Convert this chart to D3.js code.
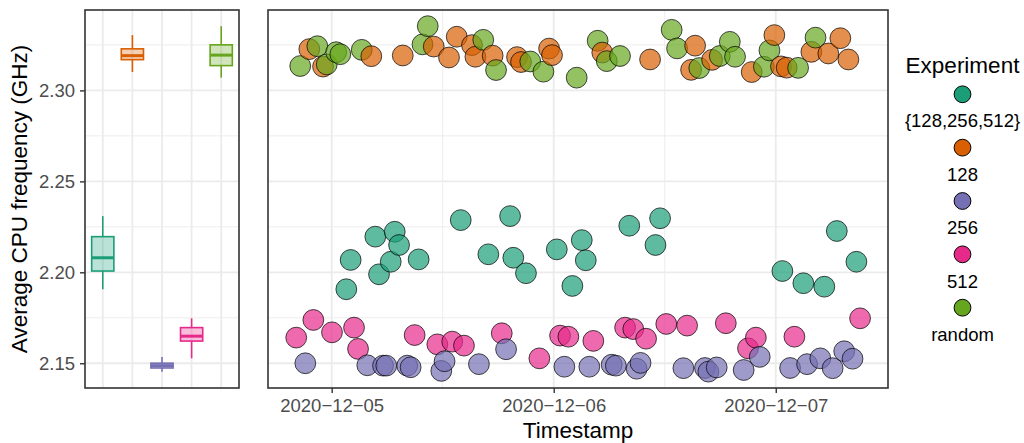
<!DOCTYPE html>
<html><head><meta charset="utf-8">
<script src="https://cdn.jsdelivr.net/npm/d3@7"></script>
<style>
html,body{margin:0;padding:0;background:#fff;}
svg{display:block;font-family:"Liberation Sans",Arial,Helvetica,sans-serif;}
</style></head>
<body><svg id="chart" width="1024" height="443"></svg>
<script>
// ---------- data ----------
const experiments = ["{128,256,512}", "128", "256", "512", "random"];
const colors = ["#1B9E77", "#D95F02", "#7570B3", "#E7298A", "#66A61E"];

const timesMulti = ["2020-12-05 01:35","2020-12-05 02:03","2020-12-05 04:43","2020-12-05 05:07","2020-12-05 06:23","2020-12-05 06:49","2020-12-05 07:17","2020-12-05 09:24","2020-12-05 13:57","2020-12-05 16:56","2020-12-05 19:17","2020-12-05 19:38","2020-12-05 21:00","2020-12-06 00:20","2020-12-06 02:01","2020-12-06 03:02","2020-12-06 03:28","2020-12-06 08:10","2020-12-06 11:00","2020-12-06 11:30","2020-12-07 00:43","2020-12-07 02:59","2020-12-07 05:15","2020-12-07 06:36","2020-12-07 08:43"];
const freqMulti = [2.1907,2.2068,2.2196,2.1989,2.2058,2.2223,2.2150,2.2071,2.2287,2.2099,2.2309,2.2080,2.1995,2.2126,2.1925,2.2177,2.2066,2.2256,2.2150,2.2297,2.2007,2.1940,2.1921,2.2227,2.2058];

const times128 = ["2020-12-04 21:35","2020-12-04 23:04","2020-12-05 04:17","2020-12-05 07:41","2020-12-05 11:02","2020-12-05 12:41","2020-12-05 13:31","2020-12-05 15:10","2020-12-05 15:32","2020-12-05 17:24","2020-12-05 20:02","2020-12-05 20:28","2020-12-05 23:30","2020-12-05 23:49","2020-12-06 05:15","2020-12-06 10:25","2020-12-06 14:51","2020-12-06 15:17","2020-12-06 17:07","2020-12-06 21:24","2020-12-06 23:51","2020-12-07 00:34","2020-12-07 01:11","2020-12-07 03:51","2020-12-07 05:41","2020-12-07 06:59","2020-12-07 07:51"];
const freq128 = [2.3227,2.3131,2.3188,2.3192,2.3241,2.3181,2.3295,2.3249,2.3185,2.3191,2.3183,2.3156,2.3230,2.3194,2.3208,2.3170,2.3113,2.3246,2.3168,2.3101,2.3304,2.3132,2.3125,2.3212,2.3203,2.3287,2.3170];

const times256 = ["2020-12-04 21:09","2020-12-05 03:51","2020-12-05 05:33","2020-12-05 05:54","2020-12-05 08:10","2020-12-05 08:32","2020-12-05 11:51","2020-12-05 12:12","2020-12-05 15:55","2020-12-05 18:51","2020-12-06 01:09","2020-12-06 03:51","2020-12-06 06:16","2020-12-06 06:43","2020-12-06 08:58","2020-12-06 09:23","2020-12-06 14:01","2020-12-06 16:21","2020-12-06 16:43","2020-12-06 17:37","2020-12-06 20:32","2020-12-06 22:16","2020-12-07 01:33","2020-12-07 03:23","2020-12-07 04:49","2020-12-07 06:09","2020-12-07 07:24","2020-12-07 08:18"];
const freq256 = [2.1500,2.1489,2.1487,2.1487,2.1487,2.1478,2.1458,2.1511,2.1495,2.1577,2.1481,2.1481,2.1492,2.1487,2.1470,2.1502,2.1473,2.1474,2.1454,2.1477,2.1463,2.1535,2.1474,2.1495,2.1527,2.1473,2.1566,2.1525];

const times512 = ["2020-12-04 20:10","2020-12-04 22:01","2020-12-05 00:02","2020-12-05 02:25","2020-12-05 02:51","2020-12-05 08:58","2020-12-05 11:25","2020-12-05 13:02","2020-12-05 14:18","2020-12-05 18:23","2020-12-05 22:27","2020-12-06 00:41","2020-12-06 01:35","2020-12-06 04:17","2020-12-06 07:43","2020-12-06 08:36","2020-12-06 09:59","2020-12-06 12:10","2020-12-06 14:25","2020-12-06 18:36","2020-12-06 21:00","2020-12-06 21:51","2020-12-07 02:01","2020-12-07 09:07"];
const freq512 = [2.1641,2.1738,2.1670,2.1696,2.1579,2.1655,2.1604,2.1619,2.1597,2.1665,2.1527,2.1652,2.1646,2.1623,2.1696,2.1688,2.1635,2.1716,2.1707,2.1720,2.1582,2.1641,2.1646,2.1747];

const timesRandom = ["2020-12-04 20:36","2020-12-04 22:27","2020-12-04 23:28","2020-12-05 00:29","2020-12-05 00:56","2020-12-05 03:15","2020-12-05 09:49","2020-12-05 10:23","2020-12-05 16:23","2020-12-05 17:46","2020-12-05 21:28","2020-12-05 22:53","2020-12-06 02:29","2020-12-06 04:45","2020-12-06 05:44","2020-12-06 07:10","2020-12-06 12:45","2020-12-06 13:20","2020-12-06 15:44","2020-12-06 17:57","2020-12-06 19:02","2020-12-06 19:36","2020-12-06 22:43","2020-12-06 23:19","2020-12-07 02:25","2020-12-07 04:18"];
const freqRandom = [2.3134,2.3243,2.3143,2.3210,2.3199,2.3223,2.3253,2.3353,2.3278,2.3112,2.3159,2.3103,2.3070,2.3273,2.3161,2.3189,2.3333,2.3231,2.3123,2.3189,2.3267,2.3185,2.3130,2.3220,2.3124,2.3290];

const yTicks = [2.15, 2.20, 2.25, 2.30];
const yMinor = [2.175, 2.225, 2.275, 2.325];
const xTickDates = ["2020-12-05", "2020-12-06", "2020-12-07"];
const xMinorDates = ["2020-12-05 12:00", "2020-12-06 12:00"];
const yDomain = [2.1364, 2.3442];
const xDomain = ["2020-12-04 17:07", "2020-12-07 12:08"];

// ---------- build ----------
const parse = d3.utcParse("%Y-%m-%d %H:%M");
const parseDay = d3.utcParse("%Y-%m-%d");
const seriesTimes = [timesMulti, times128, times256, times512, timesRandom];
const seriesFreq = [freqMulti, freq128, freq256, freq512, freqRandom];
const points = [];
experiments.forEach((e, i) => {
  seriesTimes[i].forEach((t, j) => points.push({exp: e, color: colors[i], t: parse(t), v: seriesFreq[i][j]}));
});
points.sort((a, b) => a.t - b.t);

const svg = d3.select("#chart");
const FONT = '"Liberation Sans",Arial,Helvetica,sans-serif';
const grid = "#EBEBEB", border = "#333333", tickCol = "#4D4D4D";

const L = {x0: 85, x1: 239}, R = {x0: 268, x1: 888};
const pTop = 10, pBot = 388;
const y = d3.scaleLinear().domain(yDomain).range([pBot, pTop]);
const xCat = d3.scalePoint().domain(experiments).range([L.x0, L.x1]).padding(0.6);
const x = d3.scaleUtc().domain(xDomain.map(parse)).range([R.x0, R.x1]);

// --- left panel grid
const gL = svg.append("g");
gL.selectAll(".ymin").data(yMinor).join("line")
  .attr("x1", L.x0).attr("x2", L.x1).attr("y1", d => y(d)).attr("y2", d => y(d))
  .attr("stroke", grid).attr("stroke-width", 0.9);
gL.selectAll(".ymaj").data(yTicks).join("line")
  .attr("x1", L.x0).attr("x2", L.x1).attr("y1", d => y(d)).attr("y2", d => y(d))
  .attr("stroke", grid).attr("stroke-width", 1.8);
gL.selectAll(".xmaj").data(experiments).join("line")
  .attr("x1", d => xCat(d)).attr("x2", d => xCat(d)).attr("y1", pTop).attr("y2", pBot)
  .attr("stroke", grid).attr("stroke-width", 1.8);

// boxplots
const boxW = xCat.step() * 0.75;
experiments.forEach((e, i) => {
  const vals = seriesFreq[i].slice().sort(d3.ascending);
  const q1 = d3.quantileSorted(vals, 0.25), med = d3.quantileSorted(vals, 0.5), q3 = d3.quantileSorted(vals, 0.75);
  const iqr = q3 - q1;
  const lo = d3.min(vals.filter(v => v >= q1 - 1.5 * iqr));
  const hi = d3.max(vals.filter(v => v <= q3 + 1.5 * iqr));
  const cx = xCat(e), c = colors[i];
  const g = gL.append("g");
  g.append("line").attr("x1", cx).attr("x2", cx).attr("y1", y(hi)).attr("y2", y(q3)).attr("stroke", c).attr("stroke-width", 1.6);
  g.append("line").attr("x1", cx).attr("x2", cx).attr("y1", y(q1)).attr("y2", y(lo)).attr("stroke", c).attr("stroke-width", 1.6);
  g.append("rect").attr("x", cx - boxW / 2).attr("width", boxW)
    .attr("y", y(q3)).attr("height", Math.max(1, y(q1) - y(q3)))
    .attr("fill", c).attr("fill-opacity", 0.3).attr("stroke", c).attr("stroke-width", 1.6);
  g.append("line").attr("x1", cx - boxW / 2).attr("x2", cx + boxW / 2).attr("y1", y(med)).attr("y2", y(med))
    .attr("stroke", c).attr("stroke-width", 3);
});
svg.append("rect").attr("x", L.x0).attr("y", pTop).attr("width", L.x1 - L.x0).attr("height", pBot - pTop)
  .attr("fill", "none").attr("stroke", border).attr("stroke-width", 1.6);

// y axis (left panel)
const yAxis = svg.append("g").attr("transform", `translate(${L.x0},0)`)
  .call(d3.axisLeft(y).tickValues(yTicks).tickFormat(d3.format(".2f")).tickSize(5).tickPadding(5));
yAxis.select(".domain").remove();
yAxis.selectAll(".tick line").attr("stroke", border).attr("stroke-width", 1.4);
yAxis.selectAll(".tick text").attr("fill", tickCol).style("font-size", "18.5px").style("font-family", FONT);

svg.append("text").attr("transform", `translate(27,${(pTop + pBot) / 2}) rotate(-90)`)
  .attr("text-anchor", "middle").attr("font-size", 22.5).attr("font-family", FONT).attr("fill", "#000")
  .text("Average CPU frequency (GHz)");

// --- right panel grid
const gR = svg.append("g");
gR.selectAll(".ymin").data(yMinor).join("line")
  .attr("x1", R.x0).attr("x2", R.x1).attr("y1", d => y(d)).attr("y2", d => y(d))
  .attr("stroke", grid).attr("stroke-width", 0.9);
gR.selectAll(".xmin").data(xMinorDates.map(parse)).join("line")
  .attr("x1", d => x(d)).attr("x2", d => x(d)).attr("y1", pTop).attr("y2", pBot)
  .attr("stroke", grid).attr("stroke-width", 0.9);
gR.selectAll(".ymaj").data(yTicks).join("line")
  .attr("x1", R.x0).attr("x2", R.x1).attr("y1", d => y(d)).attr("y2", d => y(d))
  .attr("stroke", grid).attr("stroke-width", 1.8);
gR.selectAll(".xmaj").data(xTickDates.map(parseDay)).join("line")
  .attr("x1", d => x(d)).attr("x2", d => x(d)).attr("y1", pTop).attr("y2", pBot)
  .attr("stroke", grid).attr("stroke-width", 1.8);

// points
gR.selectAll("circle").data(points).join("circle")
  .attr("cx", d => x(d.t)).attr("cy", d => y(d.v)).attr("r", 10.4)
  .attr("fill", d => d.color).attr("fill-opacity", 0.7)
  .attr("stroke", "#000").attr("stroke-opacity", 0.7).attr("stroke-width", 1);

svg.append("rect").attr("x", R.x0).attr("y", pTop).attr("width", R.x1 - R.x0).attr("height", pBot - pTop)
  .attr("fill", "none").attr("stroke", border).attr("stroke-width", 1.6);

const xAxis = svg.append("g").attr("transform", `translate(0,${pBot})`)
  .call(d3.axisBottom(x).tickValues(xTickDates.map(parseDay)).tickFormat(d3.utcFormat("%Y\u2212%m\u2212%d")).tickSize(5).tickPadding(6));
xAxis.select(".domain").remove();
xAxis.selectAll(".tick line").attr("stroke", border).attr("stroke-width", 1.4);
xAxis.selectAll(".tick text").attr("fill", tickCol).style("font-size", "18.5px").style("font-family", FONT);

svg.append("text").attr("x", (R.x0 + R.x1) / 2).attr("y", 438)
  .attr("text-anchor", "middle").attr("font-size", 22.5).attr("font-family", FONT).attr("fill", "#000")
  .text("Timestamp");

// --- legend
const legX = 962.5;
svg.append("text").attr("x", legX).attr("y", 73).attr("text-anchor", "middle")
  .attr("font-size", 22.5).attr("font-family", FONT).attr("fill", "#000").text("Experiment");
const leg = svg.append("g").selectAll("g").data(experiments).join("g")
  .attr("transform", (d, i) => `translate(${legX},${94.3 + i * 53.35})`);
leg.append("circle").attr("r", 8.4).attr("fill", (d, i) => colors[i]).attr("stroke", "#000").attr("stroke-width", 1);
leg.append("text").attr("y", 26.7).attr("dy", "0.35em").attr("text-anchor", "middle")
  .attr("font-size", 18.5).attr("font-family", FONT).attr("fill", "#000").text(d => d);
</script></body></html>
